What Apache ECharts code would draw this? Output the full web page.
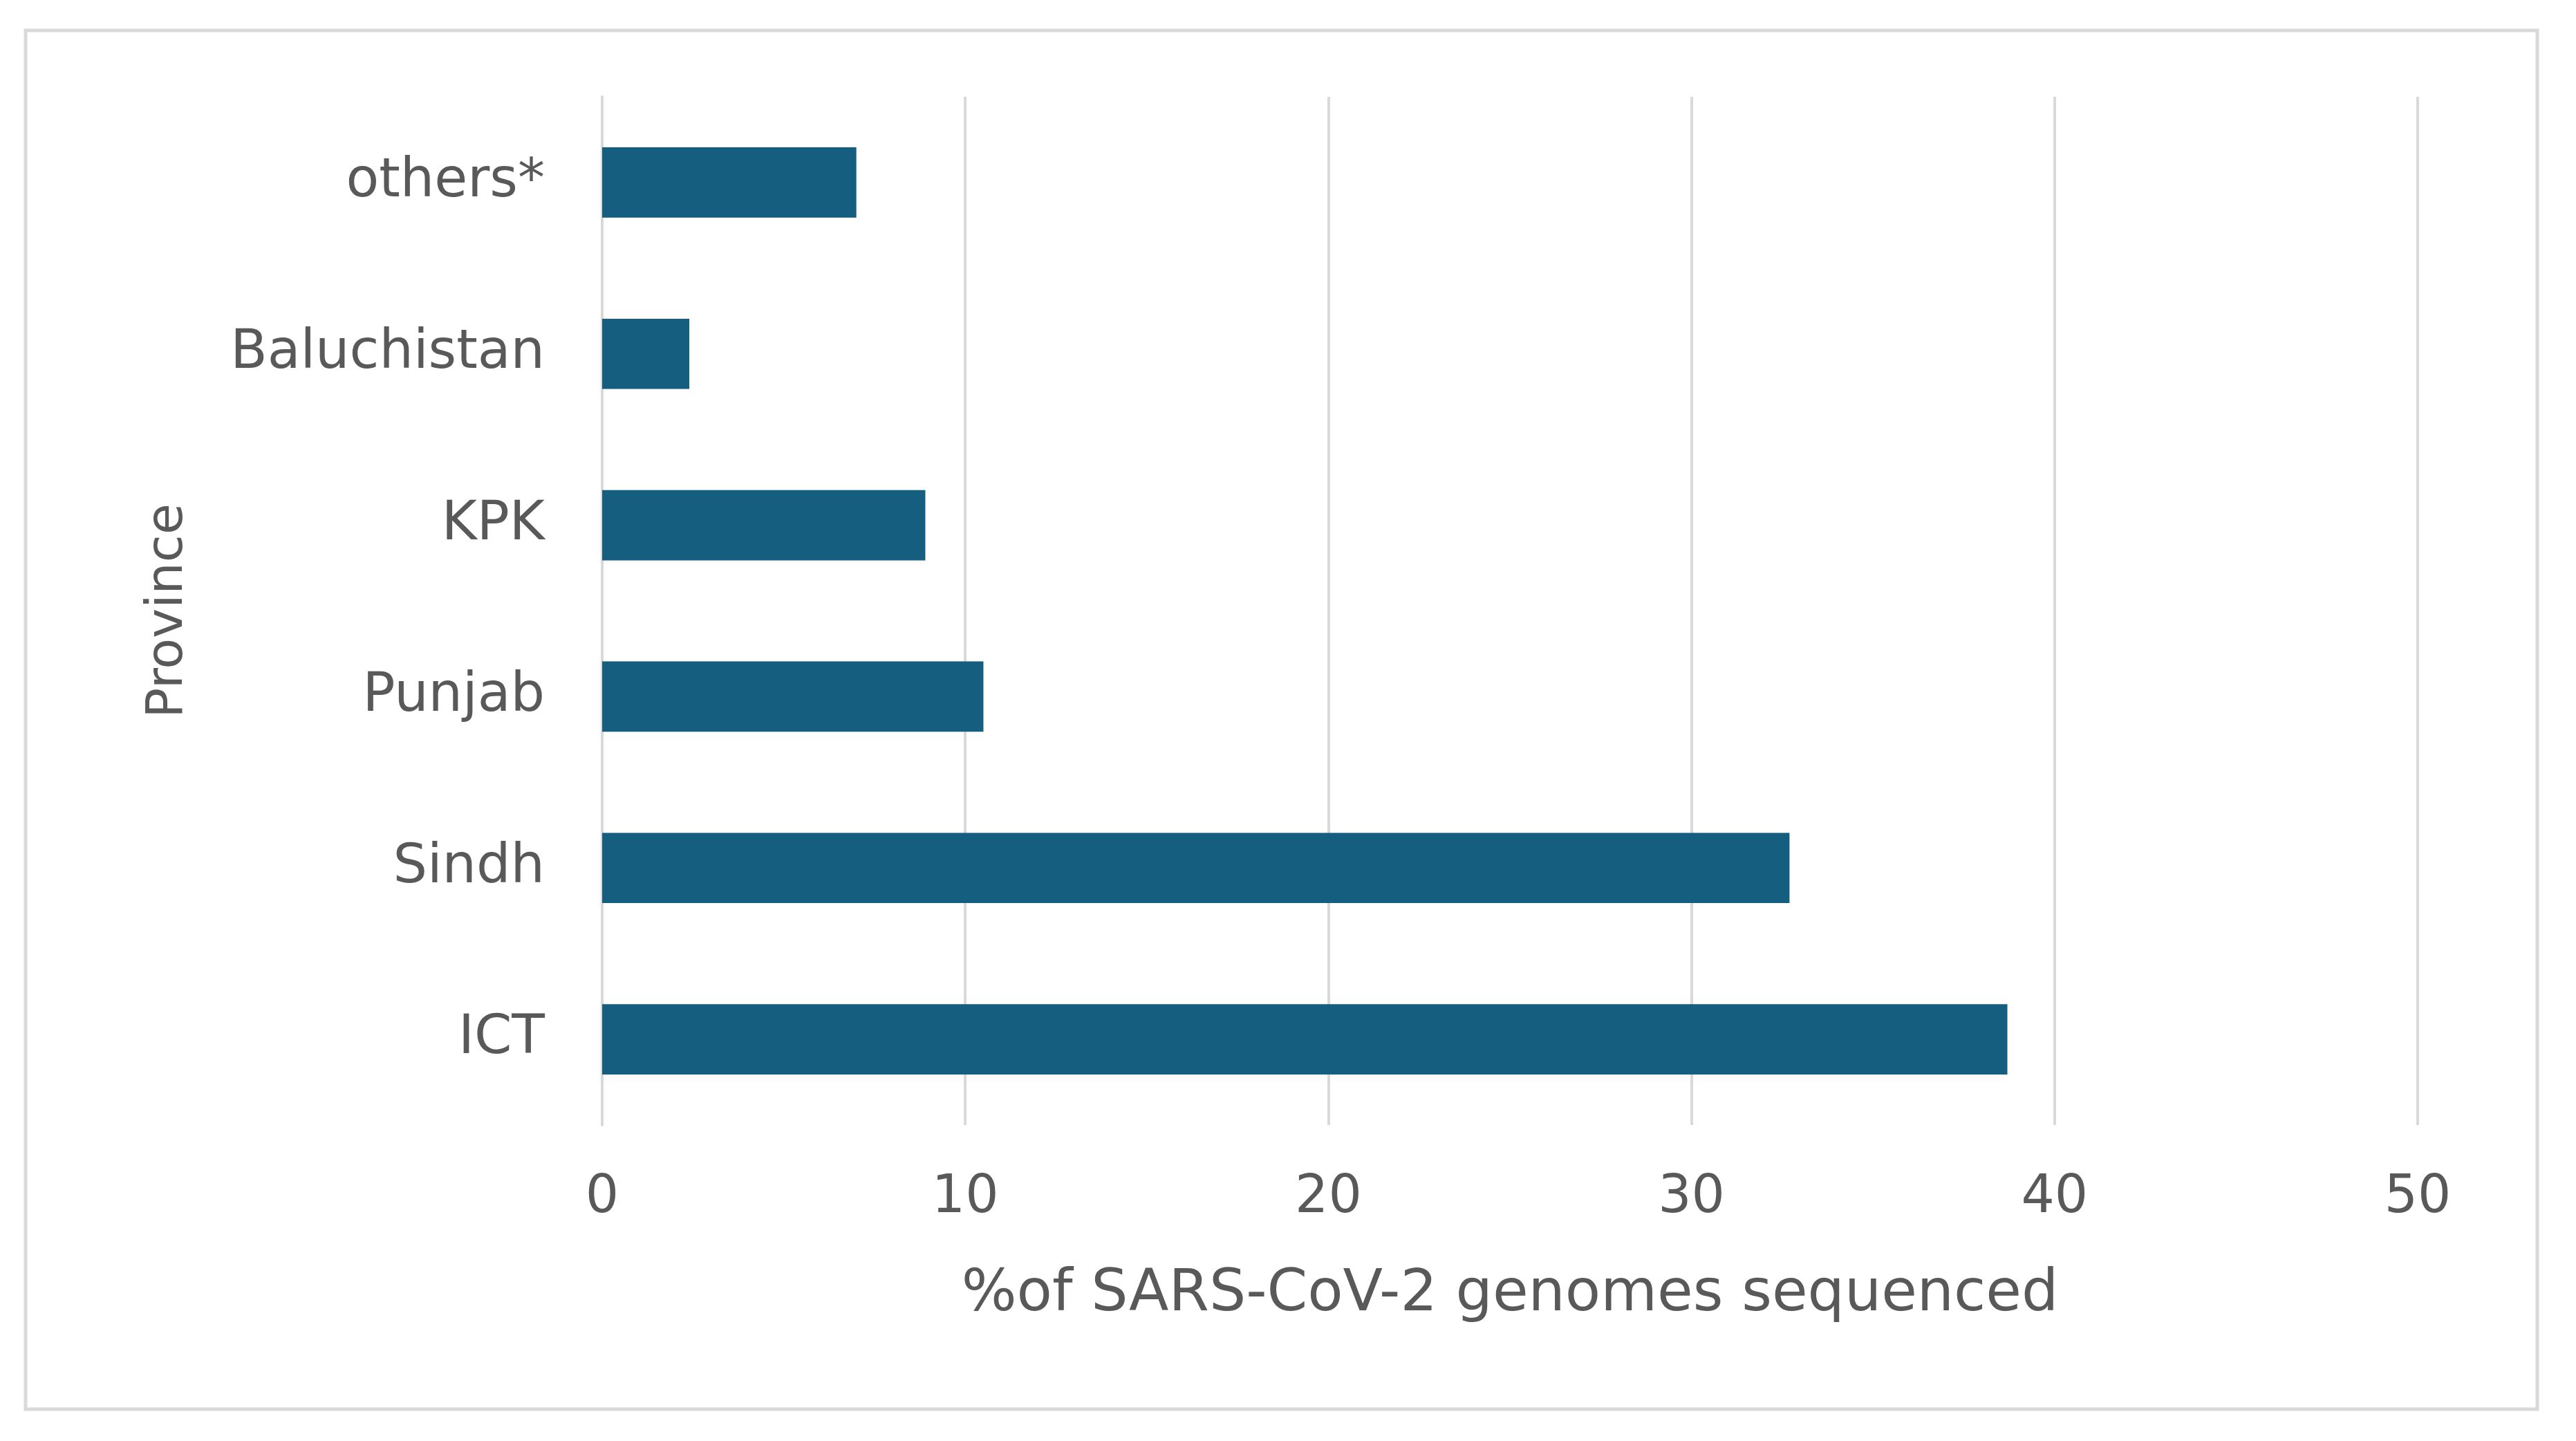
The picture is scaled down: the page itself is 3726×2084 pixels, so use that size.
<!DOCTYPE html>
<html>
<head>
<meta charset="utf-8">
<script src="https://cdn.jsdelivr.net/npm/echarts@6/dist/echarts.min.js"></script>
<style>
html,body{margin:0;padding:0;background:#fff;}
#chart{width:3726px;height:2084px;}
</style>
</head>
<body>
<div id="chart"></div>
<script>
const categories = ['ICT', 'Sindh', 'Punjab', 'KPK', 'Baluchistan', 'others*'];
const values = [38.7, 32.7, 10.5, 8.9, 2.4, 7.0];
const xTicks = { min: 0, max: 50, interval: 10 };
const xTitle = '%of SARS-CoV-2 genomes sequenced';
const yTitle = 'Province';

const chart = echarts.init(document.getElementById('chart'), null, { renderer: 'canvas' });
const textColor = '#595959';
const font = 'DejaVu Sans';
chart.setOption({
  backgroundColor: '#ffffff',
  animation: false,
  graphic: [{
    type: 'rect',
    shape: { x: 37, y: 44, width: 3633, height: 1994 },
    style: { fill: 'none', stroke: '#d9d9d9', lineWidth: 5 },
    silent: true
  }],
  grid: { left: 871, right: 229, top: 140, bottom: 457, containLabel: false },
  xAxis: {
    type: 'value',
    min: xTicks.min, max: xTicks.max, interval: xTicks.interval,
    name: xTitle,
    nameLocation: 'middle',
    nameGap: 204,
    nameTextStyle: { color: textColor, fontSize: 84, fontFamily: font },
    axisLine: { show: false },
    axisTick: { show: false },
    axisLabel: { color: textColor, fontSize: 76, fontFamily: font, margin: 68 },
    splitLine: { show: true, lineStyle: { color: '#d9d9d9', width: 4 } }
  },
  yAxis: {
    type: 'category',
    data: categories,
    name: yTitle,
    nameLocation: 'middle',
    nameGap: 590,
    nameRotate: 90,
    nameTextStyle: { color: textColor, fontSize: 73, fontFamily: font },
    axisLine: { show: true, lineStyle: { color: '#d9d9d9', width: 4 } },
    axisTick: { show: false },
    axisLabel: { color: textColor, fontSize: 78, fontFamily: font, margin: 83 },
    splitLine: { show: false }
  },
  series: [{
    type: 'bar',
    data: values,
    barWidth: '41%',
    itemStyle: { color: '#165e80' }
  }]
});
</script>
</body>
</html>
